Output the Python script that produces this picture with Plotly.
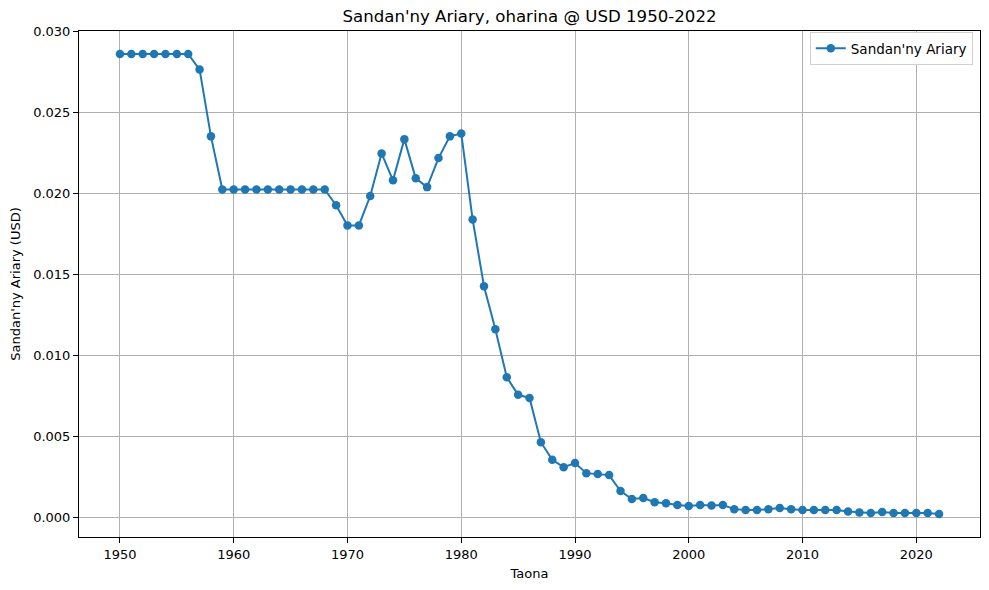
import plotly.graph_objects as go

years = list(range(1950, 2023))
values = [
    0.0286, 0.0286, 0.0286, 0.0286, 0.0286, 0.0286, 0.0286,  # 1950-1956
    0.02764, 0.02352,                                          # 1957-1958
    0.02025, 0.02025, 0.02025, 0.02025, 0.02025,
    0.02025, 0.02025, 0.02025, 0.02025, 0.02025,               # 1959-1968
    0.01927, 0.01803, 0.01803, 0.01984, 0.02247,               # 1969-1973
    0.02081, 0.02335, 0.02093, 0.02039, 0.02218,               # 1974-1978
    0.02352, 0.0237, 0.0184, 0.01428, 0.01163,                 # 1979-1983
    0.00867, 0.00758, 0.00739, 0.00466, 0.00357,               # 1984-1988
    0.00312, 0.00337, 0.00275, 0.00269, 0.00263,               # 1989-1993
    0.00165, 0.00115, 0.00121, 0.00096, 0.00089,               # 1994-1998
    0.00078, 0.00073, 0.00079, 0.00076, 0.00079,               # 1999-2003
    0.00053, 0.00047, 0.00047, 0.00053, 0.0006,                # 2004-2008
    0.00053, 0.00047, 0.00047, 0.00047, 0.00047,               # 2009-2013
    0.00039, 0.00033, 0.00029, 0.00035, 0.00029,               # 2014-2018
    0.00029, 0.00029, 0.00029, 0.00023,                        # 2019-2022
]
series_name = "Sandan'ny Ariary"
title = "Sandan'ny Ariary, oharina @ USD 1950-2022"
x_title = "Taona"
y_title = "Sandan'ny Ariary (USD)"

# matplotlib-style 5% padding
xpad = (max(years) - min(years)) * 0.05
ypad = (max(values) - min(values)) * 0.05

fig = go.Figure()
fig.add_trace(go.Scatter(
    x=years, y=values, mode='lines+markers', name=series_name,
    line=dict(color='#1f77b4', width=2),
    marker=dict(color='#1f77b4', size=8.5),
))

axis = dict(showline=True, linecolor='black', linewidth=1, mirror=True,
            ticks='outside', ticklen=5, tickcolor='black',
            showgrid=True, gridcolor='#b0b0b0', gridwidth=1,
            zeroline=False, automargin=False,
            tickfont=dict(size=13, color='black'))

# page body has an 8px margin, so the figure is a bit smaller than the window
fig.update_layout(
    width=981, height=582,
    paper_bgcolor='white', plot_bgcolor='white',
    font=dict(family='DejaVu Sans', color='black'),
    title=dict(text=title, x=0.5, xref='paper', xanchor='center',
               y=0.986, yanchor='middle',
               font=dict(size=16.6), automargin=False),
    margin=dict(l=71, r=9, t=23, b=53, autoexpand=False),
    showlegend=True,
    legend=dict(x=0.992, y=0.998, xanchor='right', yanchor='top',
                bordercolor='#d0d0d0', borderwidth=1, bgcolor='white',
                itemwidth=30, font=dict(size=13.5)),
    xaxis=dict(axis, range=[min(years) - xpad, max(years) + xpad],
               tickvals=list(range(1950, 2030, 10)),
               title=dict(text=x_title, font=dict(size=13), standoff=8)),
    yaxis=dict(axis, range=[min(values) - ypad, max(values) + ypad],
               tickvals=[0, 0.005, 0.01, 0.015, 0.02, 0.025, 0.03],
               tickformat='.3f',
               title=dict(text=y_title, font=dict(size=13), standoff=12)),
)

fig.write_html("out.html")
